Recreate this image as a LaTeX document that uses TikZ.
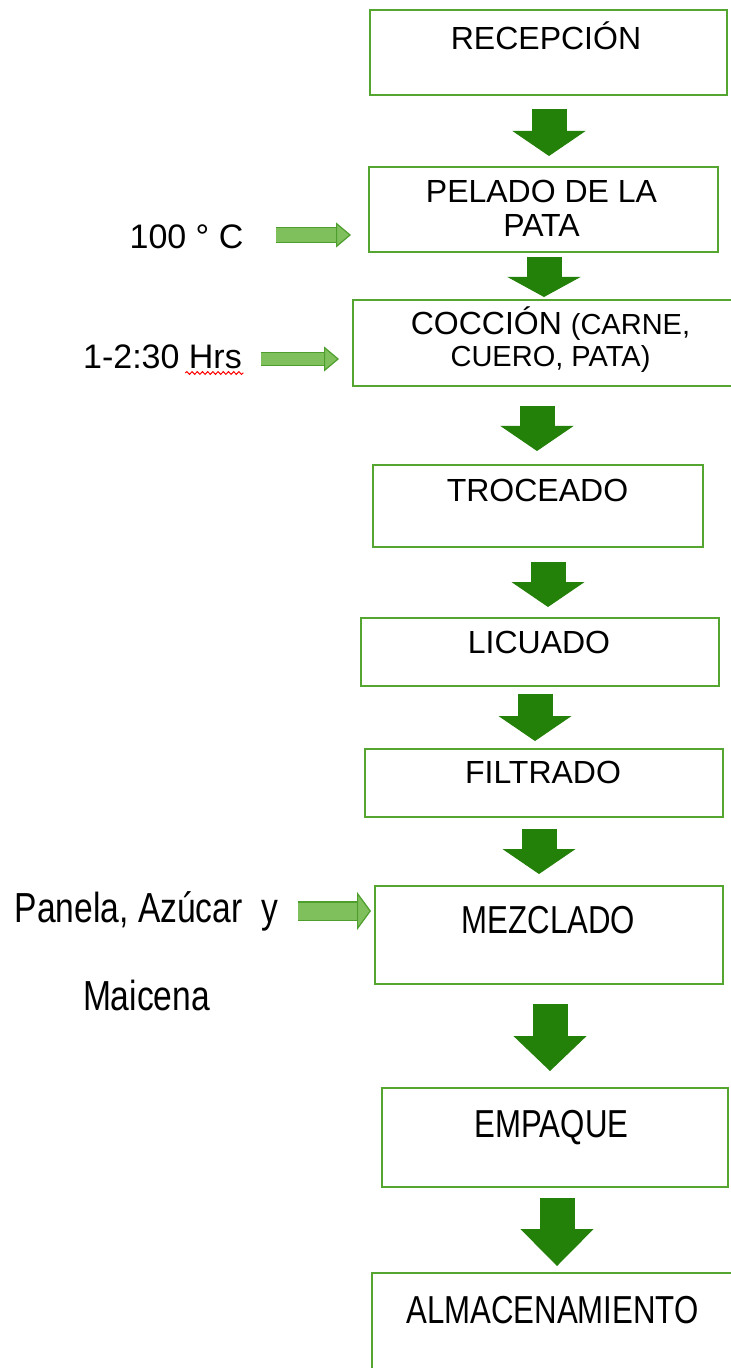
\documentclass[tikz,border=0pt]{standalone}
\usepackage{fontspec}
\setmainfont{Liberation Sans}
\newfontfamily\angosta[FakeStretch=0.8]{Liberation Sans}
\usetikzlibrary{arrows.meta,calc,decorations.pathmorphing}

\definecolor{bordecaja}{RGB}{84,166,48}
\definecolor{verdeflecha}{RGB}{35,128,8}
\definecolor{verdeclaro}{RGB}{128,192,92}
\definecolor{bordeclaro}{RGB}{78,158,46}

\begin{document}
\begin{tikzpicture}[x=0.5pt,y=-0.5pt,
        caja/.style={draw=bordecaja,line width=1pt,inner sep=0pt},
        texto/.style={inner sep=0pt,anchor=base,align=center,font=\fontsize{16}{17}\selectfont},
        angosto/.style={texto,font=\angosta\fontsize{19.5}{22}\selectfont},
        bajada/.style={draw=verdeflecha,line width=17.5pt,-{Triangle[width=36.5pt,length=#1,line width=0.5pt,color=verdeflecha]}},
        bajada/.default=12.5pt,
        lateral/.style n args={3}{draw=verdeclaro,line width=#1,
            -{Triangle[width=#2,length=#3,line width=0.6pt,fill=verdeclaro,color=bordeclaro]},
            preaction={draw=bordeclaro,line width=#1+1.2pt,-,shorten >=#3-1pt}}]
        \useasboundingbox (0,0) rectangle (731,1368);

        % cajas del proceso
        \node[caja,minimum width=178.5pt,minimum height=42.5pt] (recepcion) at (548.5,52.5) {};
        \node[caja,minimum width=174.5pt,minimum height=42.5pt] (pelado) at (543.5,209.5) {};
        \node[caja,minimum width=189.5pt,minimum height=43pt] (coccion) at (542.5,343) {};
        \node[caja,minimum width=165pt,minimum height=41pt] (troceado) at (538,506) {};
        \node[caja,minimum width=179pt,minimum height=34pt] (licuado) at (540,652) {};
        \node[caja,minimum width=179pt,minimum height=34pt] (filtrado) at (544,783) {};
        \node[caja,minimum width=174pt,minimum height=49pt] (mezclado) at (549,935) {};
        \node[caja,minimum width=173pt,minimum height=49.5pt] (empaque) at (555,1137.5) {};
        \node[caja,minimum width=184pt,minimum height=53.5pt] (almacenamiento) at (556,1326.5) {};

        % textos (base = linea final)
        \node[texto] (t-recepcion) at (546,50) {RECEPCIÓN};
        \node[texto] (t-pelado) at (541.5,237) {PELADO DE LA\\PATA};
        \node[texto,font=\fontsize{16}{16}\selectfont] (t-coccion) at (550.5,367)
            {COCCIÓN {\fontsize{14.5}{16}\selectfont(CARNE,}\\{\fontsize{14.5}{16}\selectfont CUERO, PATA)}};
        \node[texto] (t-troceado) at (537.5,502) {TROCEADO};
        \node[texto] (t-licuado) at (539,653) {LICUADO};
        \node[texto] (t-filtrado) at (543,783) {FILTRADO};
        \node[angosto] (t-mezclado) at (548.5,933) {MEZCLADO};
        \node[angosto] (t-empaque) at (551.5,1137) {EMPAQUE};
        \node[angosto] (t-almacenamiento) at (552.5,1323) {ALMACENAMIENTO};

        % entradas laterales
        \node[texto,font=\fontsize{17}{20}\selectfont] (t-temp) at (186.5,249) {100 ° C};
        \node[texto,font=\fontsize{17}{20}\selectfont] (t-tiempo) at (162.5,369) {1-2:30 Hrs};
        \node[angosto,font=\angosta\fontsize{21}{44}\selectfont] (t-insumos) at (146.5,1010) {Panela, Azúcar\ \ y\\Maicena};

        \draw[red,line width=0.5pt,decorate,decoration={snake,amplitude=0.7pt,segment length=2.6pt}]
            ($(t-tiempo.base east)+(-28.5pt,-2pt)$) -- ($(t-tiempo.base east)+(0.5pt,-2pt)$);

        \draw[lateral={7pt}{12.5pt}{7.5pt}] ($(t-temp.east |- pelado.west)+(16pt,-12.75pt)$) -- ([xshift=-8.5pt,yshift=-12.75pt]pelado.west);
        \draw[lateral={6pt}{12.5pt}{7.5pt}] ($(t-tiempo.east |- coccion.west)+(9.5pt,-8pt)$) -- ([xshift=-6.5pt,yshift=-8pt]coccion.west);
        \draw[lateral={8.5pt}{19pt}{7pt}] ($(t-insumos.east |- mezclado.west)+(9.5pt,12pt)$) -- ([xshift=-1.5pt,yshift=12pt]mezclado.west);

        % flechas entre etapas
        \draw[bajada] ([xshift=0.25pt,yshift=-6.5pt]recepcion.south) -- ([xshift=2.75pt,yshift=5pt]pelado.north);
        \draw[bajada=10pt] ([xshift=0.25pt,yshift=-2pt]pelado.south) -- ([xshift=0.75pt,yshift=1pt]coccion.north);
        \draw[bajada] ([xshift=-2.75pt,yshift=-9.5pt]coccion.south) -- ([xshift=-0.5pt,yshift=6.5pt]troceado.north);
        \draw[bajada] ([xshift=5pt,yshift=-7pt]troceado.south) -- ([xshift=4pt,yshift=5pt]licuado.north);
        \draw[bajada] ([xshift=-2.5pt,yshift=-3.5pt]licuado.south) -- ([xshift=-4.5pt,yshift=3.5pt]filtrado.north);
        \draw[bajada] ([xshift=-2.5pt,yshift=-5.5pt]filtrado.south) -- ([xshift=-5pt,yshift=5.5pt]mezclado.north);
        \draw[bajada=17.5pt] ([xshift=0.5pt,yshift=-9.5pt]mezclado.south) -- ([xshift=-2.5pt,yshift=8pt]empaque.north);
        \draw[bajada=18.5pt] ([xshift=1pt,yshift=-5pt]empaque.south) -- ([xshift=0.5pt,yshift=3pt]almacenamiento.north);
\end{tikzpicture}
\end{document}
